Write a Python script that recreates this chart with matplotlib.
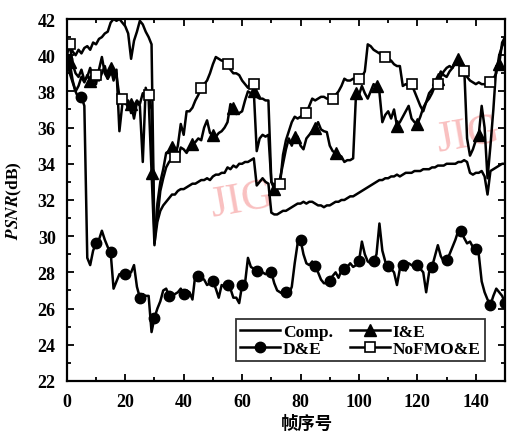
import matplotlib
matplotlib.use('Agg')
import matplotlib.pyplot as plt
import numpy as np
from matplotlib.ticker import MultipleLocator

# frame index 0..150
frames = np.arange(151)

# Comp. (no markers)
comp = [40.6, 40.8, 40.2, 40.0, 40.3, 40.1, 40.4, 40.5, 40.3, 40.7,
        40.6, 40.9, 41.0, 41.2, 41.3, 41.8, 42.0, 41.9, 42.0, 41.8,
        41.6, 41.2, 39.8, 40.8, 41.3, 41.9, 41.7, 41.3, 41.0, 40.6,
        29.6, 30.8, 31.4, 31.7, 31.9, 32.1, 32.3, 32.3, 32.5, 32.6,
        32.6, 32.7, 32.8, 32.9, 32.9, 33.0, 33.1, 33.1, 33.2, 33.1,
        33.3, 33.4, 33.4, 33.5, 33.5, 33.8, 33.7, 33.9, 33.8, 34.0,
        34.0, 34.1, 34.1, 34.2, 34.3, 32.8, 33.0, 33.2, 33.0, 32.9,
        31.3, 31.2, 31.2, 31.3, 31.4, 31.4, 31.5, 31.6, 31.7, 31.8,
        31.8, 31.9, 31.8, 31.9, 31.9, 31.8, 31.7, 31.7, 31.6, 31.7,
        31.7, 31.8, 31.9, 31.9, 32.0, 32.0, 32.1, 32.2, 32.2, 32.3,
        32.4, 32.5, 32.6, 32.7, 32.8, 32.9, 33.0, 33.1, 33.1, 33.2,
        33.2, 33.3, 33.3, 33.4, 33.3, 33.4, 33.5, 33.5, 33.5, 33.6,
        33.6, 33.6, 33.7, 33.7, 33.7, 33.8, 33.8, 33.9, 33.9, 33.9,
        34.0, 34.0, 34.0, 34.0, 34.1, 34.1, 34.2, 34.1, 33.5, 33.4,
        33.5, 33.5, 33.6, 33.3, 32.3, 33.6, 33.7, 33.8, 33.9, 34.0,
        34.0]

# D&E (filled circles)
de = [39.8, 39.0, 38.5, 38.0, 37.6, 37.7, 37.2, 28.8, 28.4, 29.2,
      29.6, 29.8, 30.3, 29.8, 29.4, 29.1, 27.1, 27.5, 27.9, 27.9,
      27.9, 28.0, 28.0, 28.4, 27.2, 26.6, 26.8, 26.7, 26.7, 24.7,
      25.5, 26.0, 26.4, 27.0, 27.1, 26.7, 26.7, 26.8, 26.9, 27.1,
      26.8, 27.0, 26.9, 26.5, 27.9, 27.8, 27.7, 27.6, 27.3, 27.4,
      27.5, 27.1, 26.6, 27.3, 27.2, 27.3, 27.1, 26.6, 26.6, 26.3,
      27.3, 27.4, 28.8, 28.3, 28.2, 28.1, 28.0, 28.0, 27.9, 28.0,
      28.0, 27.4, 27.0, 26.9, 26.8, 26.9, 26.8, 27.2, 28.5, 29.6,
      29.8, 29.0, 28.5, 28.4, 28.6, 28.35, 28.0, 27.6, 27.4, 27.4,
      27.5, 27.8, 28.0, 27.7, 28.1, 28.2, 28.3, 28.5, 28.3, 28.4,
      28.6, 29.7, 29.0, 28.6, 28.5, 28.6, 29.0, 30.7, 29.2, 28.6,
      28.35, 28.2, 28.0, 27.3, 28.2, 28.4, 28.1, 28.5, 28.4, 28.3,
      28.4, 28.2, 28.0, 26.9, 28.0, 28.3, 28.9, 29.5, 28.9, 28.6,
      28.7, 29.0, 29.4, 29.8, 30.3, 30.3, 29.9, 29.6, 29.7, 29.4,
      29.3, 29.0, 27.5, 26.9, 26.5, 26.2, 26.7, 27.1, 26.9, 26.7,
      26.3]

# I&E (filled triangles)
ie = [39.8, 39.6, 38.6, 38.0, 38.3, 38.8, 38.5, 38.9, 38.6, 38.9,
      38.4, 39.2, 39.9, 39.0, 38.7, 39.3, 38.6, 39.2, 35.8, 37.3,
      37.6, 37.0, 37.3, 36.5, 37.4, 37.2, 34.1, 38.2, 37.6, 33.5,
      29.5, 31.8, 33.0, 33.7, 34.6, 34.7, 34.9, 34.5, 34.3, 34.9,
      34.8, 34.6, 34.9, 35.1, 35.2, 35.4, 35.3, 36.0, 36.4, 35.7,
      35.6, 35.5, 35.7, 35.8, 36.0, 36.3, 37.3, 37.1, 36.75, 36.8,
      36.9, 37.5, 38.0, 37.9, 38.0, 34.7, 35.4, 35.6, 35.5, 35.6,
      33.0, 32.6, 32.7, 33.2, 34.0, 34.8, 35.4, 35.0, 35.5, 35.5,
      35.0, 34.8, 35.4, 35.6, 35.8, 36.0, 36.3, 35.9, 35.8, 35.75,
      35.0, 34.7, 34.6, 34.5, 34.4, 34.1, 34.2, 34.2, 34.3, 37.9,
      37.8, 38.3, 37.9, 37.6, 38.0, 38.4, 38.3, 37.95, 36.3, 36.7,
      36.9, 36.5, 37.0, 36.1, 36.3, 36.6, 36.9, 37.2, 36.5, 36.3,
      36.2, 36.6, 37.1, 37.4, 37.6, 37.9, 38.3, 38.7, 39.1, 38.9,
      38.8, 39.1, 39.3, 39.6, 39.8, 39.6, 39.4, 35.4, 34.45, 34.8,
      35.3, 35.6, 37.2, 36.0, 33.2, 35.0, 37.0, 39.4, 39.5, 40.7,
      41.0]

# NoFMO&E (open squares)
nofmo = [40.0, 40.6, 39.5, 39.0, 38.8, 39.2, 38.6, 38.8, 39.3, 38.7,
         38.9, 38.6, 39.0, 39.4, 38.7, 39.0, 39.2, 38.9, 37.7, 37.6,
         37.3, 37.5, 36.8, 37.2, 37.5, 37.3, 37.9, 37.6, 37.8, 37.0,
         30.0, 31.0, 32.5, 33.2, 33.8, 34.1, 34.3, 34.4, 35.0, 36.2,
         35.6, 36.9, 36.9, 37.1, 37.5, 37.8, 38.2, 38.4, 38.6, 39.0,
         39.5, 39.9, 39.8, 39.7, 39.7, 39.5, 39.2, 39.0, 39.0, 38.9,
         38.6, 38.4, 38.2, 38.5, 38.4, 37.7, 37.6, 37.6, 37.5, 37.5,
         33.0, 32.8, 33.0, 32.9, 34.5, 35.3, 35.8, 36.3, 36.6, 36.5,
         36.6, 36.7, 36.8, 37.2, 37.6, 37.5, 37.6, 37.7, 37.7, 37.6,
         37.6, 37.6, 37.8, 38.0, 38.3, 38.7, 38.6, 38.6, 38.7, 38.6,
         38.7, 38.8, 39.1, 40.6, 40.5, 40.3, 40.2, 40.1, 40.0, 39.9,
         39.8, 39.7, 39.5, 39.4, 39.4, 38.3, 38.4, 38.3, 38.4, 38.0,
         37.6, 37.2, 36.9, 37.4, 37.9, 38.1, 38.3, 38.4, 38.8, 39.1,
         39.3, 39.4, 39.3, 39.6, 39.6, 39.3, 39.1, 38.8, 38.6, 38.5,
         38.4, 38.5, 38.4, 38.4, 38.3, 38.5, 38.7, 39.0, 40.0, 40.5,
         40.8]

labels = ['Comp.', 'D&E', 'I&E', 'NoFMO&E']

plt.rcParams['font.family'] = ['Liberation Serif', 'DejaVu Serif']
plt.rcParams['font.weight'] = 'bold'
plt.rcParams['mathtext.fontset'] = 'stix'

fig = plt.figure(figsize=(5.18, 4.35), dpi=100)
ax = fig.add_axes([0.129, 0.122, 0.846, 0.832])

lw = 1.8
ax.plot(frames, comp, color='black', lw=lw, label=labels[0])
ax.plot(frames, de, color='black', lw=lw, marker='o', ms=7.5,
        markevery=5, label=labels[1])
ax.plot(frames, ie, color='black', lw=lw, marker='^', ms=8,
        markevery=(1, 7), label=labels[2])
ax.plot(frames, nofmo, color='black', lw=lw, marker='s', ms=7,
        mfc='white', mec='black', mew=1.2, markevery=(1, 9), label=labels[3])

# faint watermark
ax.text(0.40, 0.50, 'JIG', transform=ax.transAxes, fontsize=32,
        color='#f9c0c0', rotation=10, fontweight='normal', zorder=0,
        ha='center', va='center')
ax.text(0.915, 0.68, 'JIG', transform=ax.transAxes, fontsize=32,
        color='#f9c0c0', rotation=10, fontweight='normal', zorder=0,
        ha='center', va='center')

ax.set_xlim(0, 150)
ax.set_ylim(22, 42)
ax.xaxis.set_major_locator(MultipleLocator(20))
ax.xaxis.set_minor_locator(MultipleLocator(10))
ax.yaxis.set_major_locator(MultipleLocator(2))
ax.yaxis.set_minor_locator(MultipleLocator(1))
ax.tick_params(which='both', direction='in', top=True, right=True,
               labelsize=13, width=1.3)
ax.tick_params(which='major', length=5)
ax.tick_params(which='minor', length=3)
ax.tick_params(axis='x', which='major', pad=9)
ax.tick_params(axis='y', which='major', pad=8)
for s in ax.spines.values():
    s.set_linewidth(1.6)

ax.set_ylabel(r'$\mathit{PSNR}$(dB)', fontsize=12.5, fontweight='bold')
ax.yaxis.set_label_coords(-0.098, 0.5)
ax.set_xlabel('帧序号', fontsize=12.5, fontweight='bold',
              family=['Noto Sans CJK SC', 'DejaVu Sans'])
ax.xaxis.set_label_coords(0.548, -0.09)

leg = ax.legend(loc='lower right', ncol=2, fontsize=12.5, frameon=True,
                fancybox=False, edgecolor='black', handlelength=2.3,
                borderpad=0.25, labelspacing=0.05, columnspacing=1.0,
                handletextpad=0.15, borderaxespad=1.15)
leg.get_frame().set_linewidth(1.3)

fig.savefig('out.png', dpi=100)
